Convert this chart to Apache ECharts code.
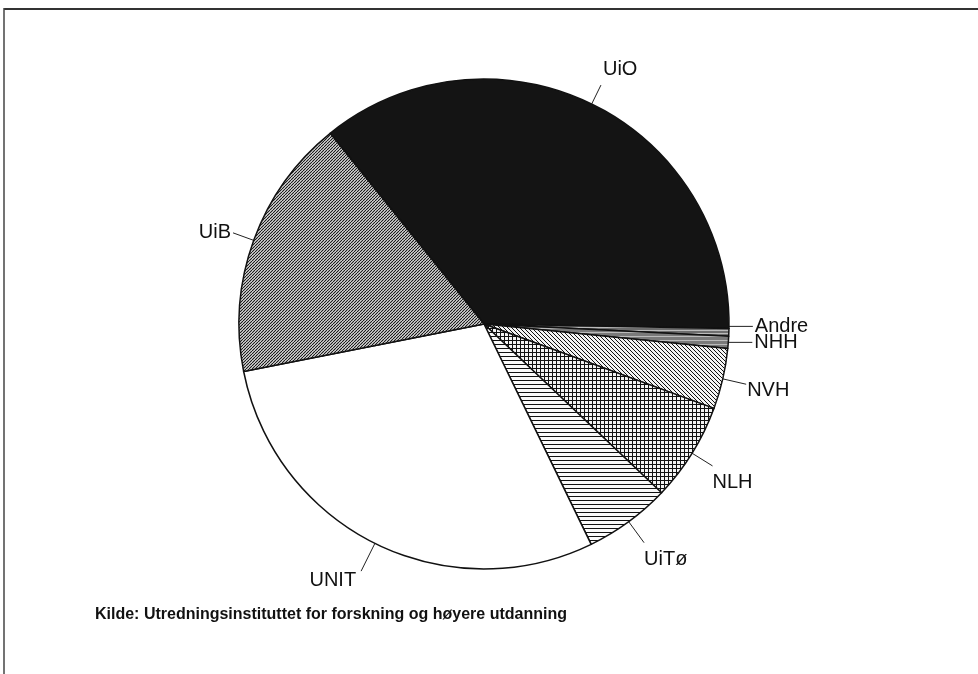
<!DOCTYPE html>
<html>
<head>
<meta charset="utf-8">
<script src="https://cdn.jsdelivr.net/npm/echarts@6/dist/echarts.min.js"></script>
<style>
html,body{margin:0;padding:0;background:#fff;}
#chart{width:978px;height:674px;}
</style>
</head>
<body>
<div id="chart"></div>
<script>
// Share of total (percent), clockwise from UiO
const categories = ['UiO', 'Andre', 'NHH', 'NVH', 'NLH', 'UiTø', 'UNIT', 'UiB'];
const values = [36.1, 0.5, 0.8, 4.0, 6.5, 5.7, 29.1, 17.3];
const sourceText = 'Kilde: Utredningsinstituttet for forskning og høyere utdanning';

// label placement style relative to the end of each leader line
const labelPlace = {
  'UiO':   { len: 21, align: 'left',   v: 'bottom', dx: 2,  dy: -6 },
  'Andre': { len: 24, align: 'left',   v: 'middle', dx: 2,  dy: 0, flat: true, shift: -6 },
  'NHH':   { len: 24, align: 'left',   v: 'middle', dx: 2,  dy: 0, flat: true, shift: 0 },
  'NVH':   { len: 24, align: 'left',   v: 'middle', dx: 1,  dy: 6 },
  'NLH':   { len: 24, align: 'left',   v: 'top',    dx: 0,  dy: 7 },
  'UiTø':  { len: 26, align: 'left',   v: 'top',    dx: 0,  dy: 7 },
  'UNIT':  { len: 31, align: 'right',  v: 'top',    dx: -5, dy: -1 },
  'UiB':   { len: 22, align: 'right',  v: 'middle', dx: -2, dy: 0 }
};

function makePattern(size, bg, draw) {
  const c = document.createElement('canvas');
  c.width = size; c.height = size;
  const ctx = c.getContext('2d');
  ctx.fillStyle = bg;
  ctx.fillRect(0, 0, size, size);
  ctx.strokeStyle = '#111';
  draw(ctx, size);
  return { image: c, repeat: 'repeat' };
}
function diagUp(ctx, s) {
  ctx.lineWidth = 1.1;
  ctx.beginPath();
  for (let o = -s; o <= s; o += s) { ctx.moveTo(o, s); ctx.lineTo(o + s, 0); }
  ctx.stroke();
}
function diagDown(ctx, s) {
  ctx.lineWidth = 1;
  ctx.beginPath();
  for (let o = -s; o <= s; o += s) { ctx.moveTo(o, 0); ctx.lineTo(o + s, s); }
  ctx.stroke();
}
function horiz(ctx, s) {
  ctx.lineWidth = 1;
  ctx.beginPath(); ctx.moveTo(0, 0.5); ctx.lineTo(s, 0.5); ctx.stroke();
}
function grid(ctx, s) {
  ctx.lineWidth = 1;
  ctx.beginPath();
  ctx.moveTo(0, 0.5); ctx.lineTo(s, 0.5);
  ctx.moveTo(0.5, 0); ctx.lineTo(0.5, s);
  ctx.stroke();
}
function greyLines(ctx, s) {
  ctx.strokeStyle = '#bbb';
  ctx.lineWidth = 1;
  ctx.beginPath(); ctx.moveTo(0, 0.5); ctx.lineTo(s, 0.5); ctx.stroke();
}

const fills = {
  'UiO': '#141414',
  'Andre': makePattern(3, '#6e6e6e', greyLines),
  'NHH': makePattern(4, '#7a7a7a', greyLines),
  'NVH': makePattern(4, '#f4f4f4', diagDown),
  'NLH': makePattern(4, '#f4f4f4', grid),
  'UiTø': makePattern(4, '#fafafa', horiz),
  'UNIT': '#ffffff',
  'UiB': makePattern(3, '#eeeeee', diagUp)
};

const chart = echarts.init(document.getElementById('chart'));
chart.setOption({
  animation: false,
  backgroundColor: '#fff',
  graphic: [
    { type: 'line', shape: { x1: 4, y1: 9, x2: 978, y2: 9 }, style: { stroke: '#333', lineWidth: 2 } },
    { type: 'line', shape: { x1: 4, y1: 8, x2: 4, y2: 674 }, style: { stroke: '#444', lineWidth: 1.5 } },
    { type: 'text', left: 95, top: 607, style: { text: sourceText, font: 'bold 16px "Liberation Sans", Arial, sans-serif', fill: '#111' } }
  ],
  series: [{
    type: 'pie',
    center: [484, 324],
    radius: 245,
    startAngle: 128.9,
    clockwise: true,
    avoidLabelOverlap: false,
    minShowLabelAngle: 0,
    itemStyle: { borderColor: '#111', borderWidth: 1.5 },
    label: {
      show: true,
      position: 'outside',
      color: '#111',
      fontFamily: '"Liberation Sans", Arial, sans-serif',
      fontSize: 20,
      distanceToLabelLine: 2
    },
    labelLine: { show: true, length: 20, length2: 0, lineStyle: { color: '#222', width: 1 } },
    labelLayout: function (p) {
      const name = categories[p.dataIndex];
      const cfg = labelPlace[name];
      const pts = p.labelLinePoints;
      if (!cfg || !pts) return { hideOverlap: false };
      const p0 = pts[0], p1 = pts[1];
      let start, end;
      if (cfg.flat) {
        start = [p0[0], p0[1] + cfg.shift];
        end = [p0[0] + cfg.len, p0[1] + cfg.shift];
      } else {
        const ux = p1[0] - p0[0], uy = p1[1] - p0[1];
        const n = Math.sqrt(ux * ux + uy * uy) || 1;
        start = [p0[0], p0[1]];
        end = [p0[0] + ux / n * cfg.len, p0[1] + uy / n * cfg.len];
      }
      return {
        hideOverlap: false,
        x: end[0] + cfg.dx,
        y: end[1] + cfg.dy,
        align: cfg.align,
        verticalAlign: cfg.v,
        labelLinePoints: [start, end, end]
      };
    },
    emphasis: { disabled: true },
    data: categories.map((n, i) => ({ name: n, value: values[i], itemStyle: { color: fills[n] } }))
  }]
});
</script>
</body>
</html>
